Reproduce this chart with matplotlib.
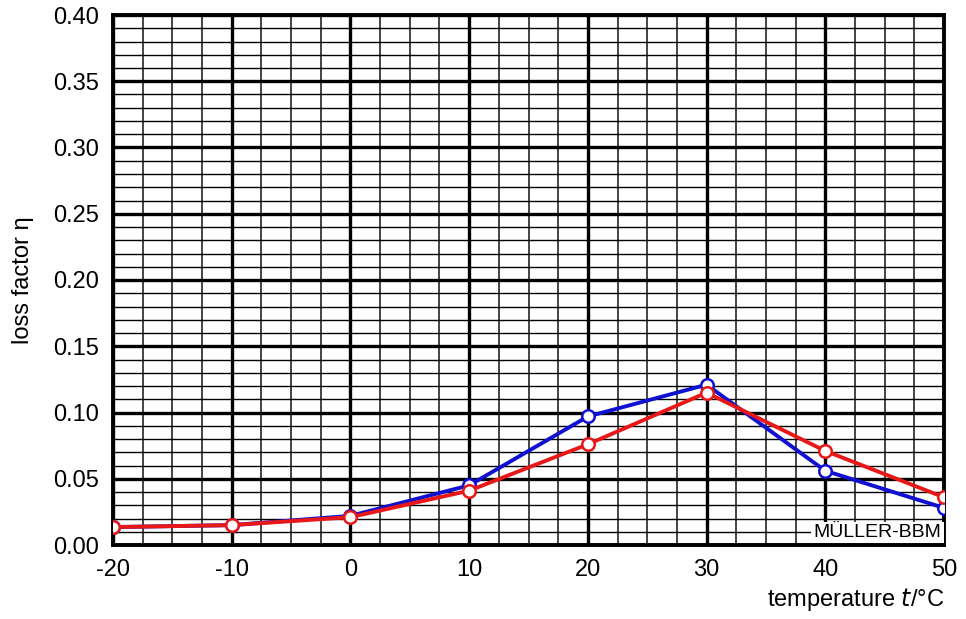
import matplotlib.pyplot as plt
from matplotlib.ticker import MultipleLocator, FormatStrFormatter

plt.rcParams['font.family'] = ['Liberation Sans', 'DejaVu Sans']
plt.rcParams['axes.unicode_minus'] = False

temps = [-20, -10, 0, 10, 20, 30, 40, 50]
blue_eta = [0.0135, 0.015, 0.022, 0.045, 0.097, 0.121, 0.056, 0.028]
red_eta = [0.0135, 0.015, 0.021, 0.041, 0.076, 0.115, 0.071, 0.036]

fig = plt.figure(figsize=(9.66, 6.19), dpi=100)
ax = fig.add_axes([113/966, 1 - 545/619, (944-113)/966, (545-15)/619])

ax.set_xlim(-20, 50)
ax.set_ylim(0, 0.40)
ax.xaxis.set_major_locator(MultipleLocator(10))
ax.xaxis.set_minor_locator(MultipleLocator(2.5))
ax.yaxis.set_major_locator(MultipleLocator(0.05))
ax.yaxis.set_minor_locator(MultipleLocator(0.01))
ax.yaxis.set_major_formatter(FormatStrFormatter('%.2f'))

ax.grid(which='major', color='black', linewidth=2.4)
ax.grid(which='minor', axis='y', color='black', linewidth=1.0)
ax.grid(which='minor', axis='x', color='#444444', linewidth=1.4)
ax.set_axisbelow(True)
for s in ax.spines.values():
    s.set_linewidth(2.8)

ax.tick_params(which='both', length=0, labelsize=17)
ax.tick_params(axis='x', pad=10)
ax.tick_params(axis='y', pad=10)

ax.plot(temps, blue_eta, color='#1010d0', linewidth=2.8, marker='o',
        markersize=9, markerfacecolor='white', markeredgecolor='#1010d0',
        markeredgewidth=1.8, zorder=3)
ax.plot(temps, red_eta, color='#e81818', linewidth=2.8, marker='o',
        markersize=9, markerfacecolor='white', markeredgecolor='#e81818',
        markeredgewidth=1.8, zorder=4)

ax.text(0.997, 0.008, 'MÜLLER-BBM', transform=ax.transAxes, ha='right',
        va='bottom', fontsize=14,
        bbox=dict(facecolor='white', edgecolor='none', pad=1.5), zorder=5)

ax.set_ylabel('loss factor η', fontsize=17, labelpad=14)
ax.set_xlabel('temperature $t$/°C', fontsize=17, loc='right', labelpad=4)

fig.savefig('out.png', dpi=100)
